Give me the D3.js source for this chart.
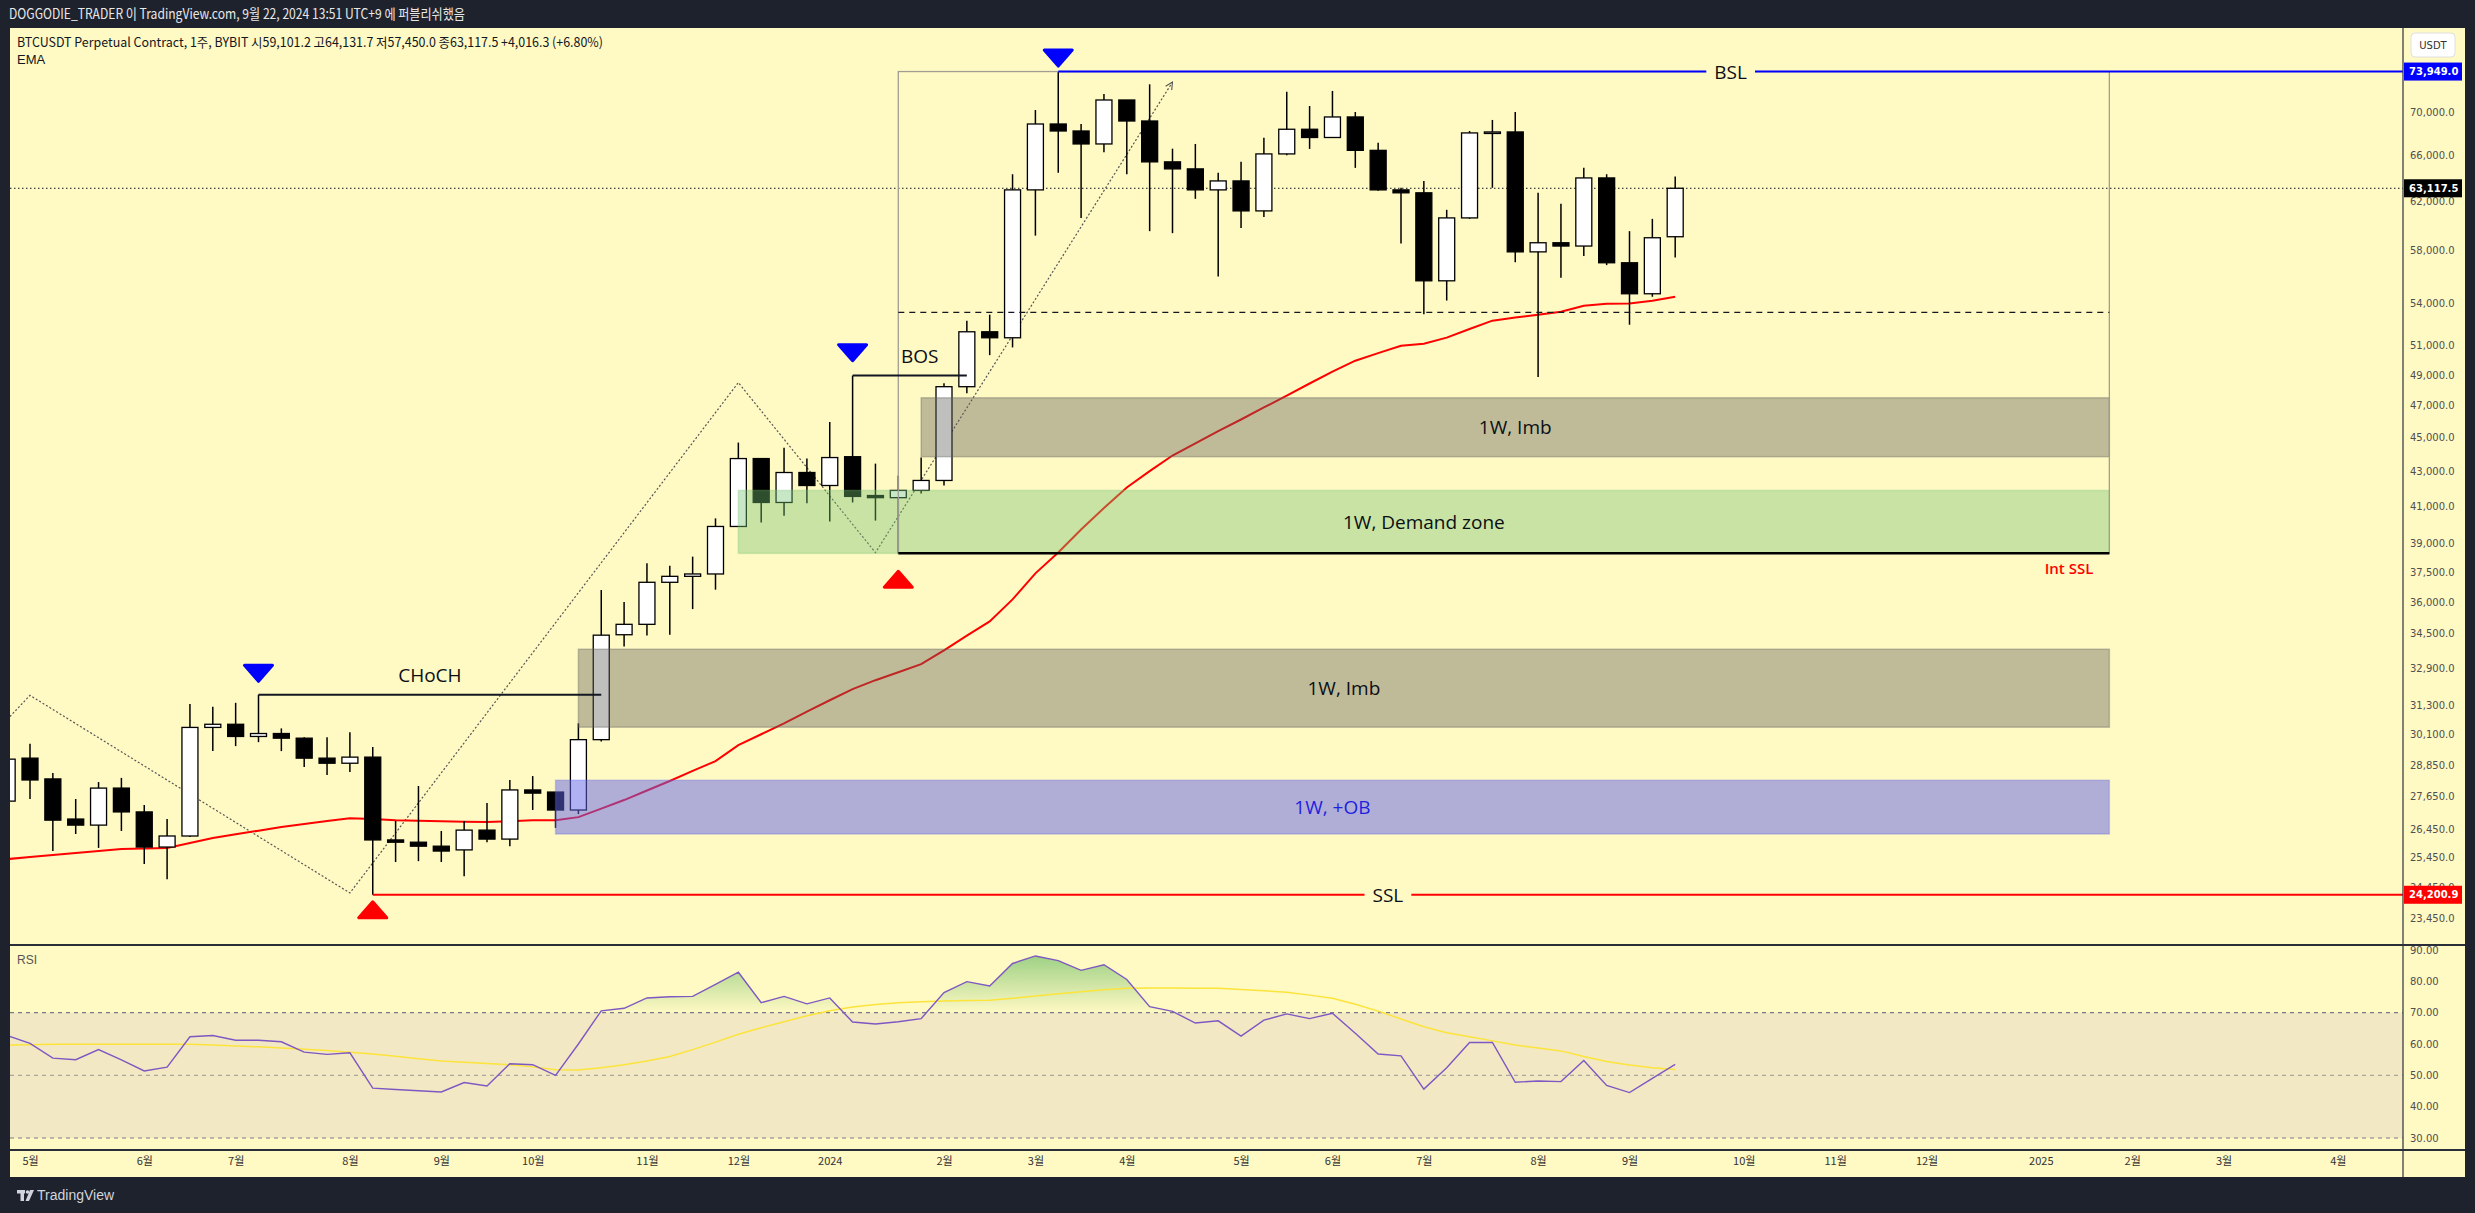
<!DOCTYPE html>
<html>
<head>
<meta charset="utf-8">
<script src="https://cdn.jsdelivr.net/npm/d3@7"></script>
<style>
  body { margin: 0; background: #1e222d; }
  svg { display: block; }
</style>
</head>
<body>
<svg id="chart" width="2475" height="1213"></svg>
<script>

// weekly candles, first week starts 2023-04-24 (BTCUSDT perp, BYBIT)
var firstWeek = "2023-04-24"
var opens  = [27480,29130,28320,26820,26600,27970,27080,25820,26210,30370,30500,30000,30120,29930,29130,28930,29170,26070,25990,25850,25720,26420,26100,27900,27820,27150,29870,34440,34930,36980,37280,37400,39890,43740,41210,42920,42170,43850,41600,41480,41890,42460,48220,51950,51530,62980,68870,68220,67030,71150,69150,65420,64800,62980,63750,61210,66130,68380,67620,69530,66450,62980,62730,55670,60630,68040,68130,57900,58620,58360,64010,57050,54700,59101.2]
var highs  = [29500,29700,28550,27560,28200,28360,27340,26820,31350,31230,31400,31750,30330,29970,29970,30170,29570,26750,28050,26390,26750,27410,28280,28430,27820,30540,36600,36000,37950,37820,38290,40330,44700,43740,44380,43740,45960,48950,43440,42740,43800,48450,52740,53170,64330,70190,73949,68870,71730,71150,72680,66600,67030,64460,65420,67600,71960,70570,72030,70000,67140,63160,63750,61300,68220,69250,70000,62730,61800,64900,64330,59550,60550,64131.7]
var lows   = [27300,27560,25680,26280,25790,26390,25230,24720,26170,29410,29610,29770,29410,28780,28470,28590,24200.9,25300,25330,25300,24820,25990,25850,27150,26500,27000,29800,33890,34410,34440,35660,36610,39890,40110,40470,41160,40160,41210,40210,38460,41720,42170,47800,50330,50860,59190,64460,60630,66280,64330,59550,59390,62220,56000,59800,60700,66000,66580,67600,64890,62900,58570,53200,54200,60550,63160,57090,48860,55900,57580,56870,52450,54480,57450]
var closes = [29090,28280,26780,26600,27970,27080,25820,26210,30370,30500,30000,30120,29930,29130,28930,29170,26070,25990,25850,25680,26420,26100,27900,27780,27150,29870,34420,34930,36980,37280,37400,39890,43740,41210,42920,42170,43800,41550,41480,41890,42460,48220,51950,51530,62980,68870,68220,67030,71150,69150,65420,64800,62980,63750,61210,66130,68380,67620,69530,66450,62980,62730,55670,60630,68040,68130,57900,58620,58360,64010,57050,54700,59020,63117.5]
var ema    = [25400,25470,25540,25610,25680,25750,25770,25790,25960,26140,26270,26400,26530,26640,26750,26850,26820,26780,26760,26740,26720,26710,26740,26780,26780,26890,27200,27520,27880,28240,28630,29010,29650,30090,30540,31030,31510,31990,32380,32730,33090,33720,34400,35070,36130,37430,38510,39730,40900,42060,43000,43920,44650,45400,46120,46880,47640,48430,49220,49950,50470,50980,51120,51540,52150,52740,52960,53170,53380,53820,53970,53990,54190,54480]
var rsi    = [62.7,60.2,55.5,55.0,58.2,54.9,51.4,52.6,62.3,62.7,61.2,61.2,60.7,57.4,56.7,57.2,45.9,45.5,45.1,44.7,47.7,46.6,53.7,53.4,50.0,60.0,70.6,71.4,74.7,75.1,75.2,79.0,82.9,73.2,75.2,72.8,74.7,67.0,66.4,67.1,68.1,76.4,79.9,78.5,85.7,88.1,86.6,83.5,85.3,80.6,71.9,70.4,66.7,67.4,62.5,67.6,69.6,68.1,69.8,63.4,56.8,56.2,45.6,52.4,60.5,60.5,47.8,48.2,48.0,54.7,46.8,44.5,49.0,53.5]
var rsiMa  = [59.7,59.8,59.9,59.9,59.9,59.9,59.9,59.9,59.9,59.7,59.4,59.1,58.7,58.3,57.9,57.4,56.8,56.1,55.3,54.6,54.2,53.8,53.4,52.7,51.8,51.7,52.4,53.4,54.6,56.0,58.2,60.6,63.1,65.2,67.1,69.0,70.6,71.8,72.6,73.2,73.5,73.7,73.9,74.0,74.6,75.3,76.0,76.7,77.3,77.8,77.9,77.9,77.8,77.8,77.4,77.0,76.5,75.6,74.6,72.7,70.5,68.0,65.5,63.6,62.3,61.0,59.7,58.7,57.8,56.0,54.4,53.3,52.4,51.9]

var priceTicks = [70000,66000,62000,58000,54000,51000,49000,47000,45000,43000,41000,39000,37500,36000,34500,32900,31300,30100,28850,27650,26450,25450,24450,23450]
var rsiTicks = [90,80,70,60,50,40,30]
var timeTickDates  = ["2023-05-01","2023-06-05","2023-07-03","2023-08-07","2023-09-04","2023-10-02","2023-11-06","2023-12-04","2024-01-01","2024-02-05","2024-03-04","2024-04-01","2024-05-06","2024-06-03","2024-07-01","2024-08-05","2024-09-02","2024-10-07","2024-11-04","2024-12-02","2025-01-06","2025-02-03","2025-03-03","2025-04-07"]
var timeTickLabels = ["5월","6월","7월","8월","9월","10월","11월","12월","2024","2월","3월","4월","5월","6월","7월","8월","9월","10월","11월","12월","2025","2월","3월","4월"]

// drawings
var zoneEnd = "2025-01-27"
var zones = [
  { start: "2024-01-29", top: 47500, bottom: 43850, label: "1W, Imb", kind: "imb" },
  { start: "2023-12-04", top: 41890, bottom: 38460, label: "1W, Demand zone", kind: "demand" },
  { start: "2023-10-16", top: 33770, bottom: 30380, label: "1W, Imb", kind: "imb" },
  { start: "2023-10-09", top: 28270, bottom: 26280, label: "1W, +OB", kind: "ob" }
]
var rangeBox = { start: "2024-01-22", end: "2025-01-27", top: 73949, bottom: 38460, eq: 53330 }
var levels = [
  { start: "2024-03-11", end: null, price: 73949, label: "BSL", kind: "bsl" },
  { start: "2023-08-14", end: null, price: 24200.9, label: "SSL", kind: "ssl" },
  { start: "2023-07-10", end: "2023-10-23", price: 31750, label: "CHoCH", kind: "bos" },
  { start: "2024-01-08", end: "2024-02-12", price: 48950, label: "BOS", kind: "bos" },
  { start: "2024-01-22", end: "2025-01-27", price: 38460, label: "Int SSL", kind: "int" }
]
var swingHighs = [["2023-07-10", 32330], ["2024-01-08", 49950], ["2024-03-11", 74500]]
var swingLows  = [["2023-08-14", 23970], ["2024-01-22", 37540]]
var zigzag = [["2023-04-24", 30700], ["2023-05-01", 31720], ["2023-08-07", 24260], ["2023-12-04", 48490], ["2024-01-15", 38500], ["2024-04-15", 72900]]

var lastPrice = 63117.5

// ---------------------------------------------------------------

var parse = d3.utcParse("%Y-%m-%d")
var weeks = d3.range(opens.length).map(i => d3.utcDay.offset(parse(firstWeek), 7 * i))

var paneL = 10, paneR = 2403, panelR = 2465
var mainTop = 28, mainBot = 945, rsiBot = 1150, panelBot = 1177
var bg = "#fff9c4"
var labelFont = "'Open Sans', sans-serif"

var x = d3.scaleUtc()
  .domain([parse("2023-05-01"), parse("2025-04-07")])
  .range([30, 2337.85])
var y = d3.scaleLog().domain([23450, 70000]).range([918, 112])
var yr = d3.scaleLinear().domain([30, 90]).range([1138, 950])

var svg = d3.select("#chart")
var defs = svg.append("defs")

defs.append("clipPath").attr("id", "mainClip")
  .append("rect").attr("x", paneL).attr("y", mainTop).attr("width", paneR - paneL).attr("height", mainBot - mainTop)
defs.append("clipPath").attr("id", "rsiClip")
  .append("rect").attr("x", paneL).attr("y", mainBot).attr("width", paneR - paneL).attr("height", rsiBot - mainBot)
defs.append("clipPath").attr("id", "obClip")
  .append("rect").attr("x", paneL).attr("y", mainBot).attr("width", paneR - paneL).attr("height", yr(70) - mainBot)

var grad = defs.append("linearGradient").attr("id", "obGrad")
  .attr("gradientUnits", "userSpaceOnUse")
  .attr("x1", 0).attr("x2", 0).attr("y1", yr(90)).attr("y2", yr(70))
grad.append("stop").attr("offset", 0).attr("stop-color", "rgb(76,175,80)").attr("stop-opacity", 0.6)
grad.append("stop").attr("offset", 1).attr("stop-color", "rgb(76,175,80)").attr("stop-opacity", 0)

defs.append("marker").attr("id", "arrow")
  .attr("viewBox", "0 0 10 10").attr("refX", 9).attr("refY", 5)
  .attr("markerWidth", 9).attr("markerHeight", 9).attr("markerUnits", "userSpaceOnUse")
  .attr("orient", "auto")
  .append("path").attr("d", "M1,1 L9,5 L1,9").attr("fill", "none").attr("stroke", "#555").attr("stroke-width", 1.2)

// frame
svg.append("rect").attr("width", 2475).attr("height", 1213).attr("fill", "#1e222d")
svg.append("rect").attr("x", paneL).attr("y", mainTop).attr("width", panelR - paneL).attr("height", panelBot - mainTop).attr("fill", bg)

// header
svg.append("text").attr("x", 9).attr("y", 19)
  .attr("font-family", "'Noto Sans CJK KR', sans-serif").attr("font-size", 14).attr("fill", "#e8e8e8")
  .attr("textLength", 456).attr("lengthAdjust", "spacingAndGlyphs")
  .text("DOGGODIE_TRADER 이 TradingView.com, 9월 22, 2024 13:51 UTC+9 에 퍼블리쉬했음")

var main = svg.append("g").attr("clip-path", "url(#mainClip)")

// last price dotted line
main.append("line")
  .attr("x1", paneL).attr("x2", paneR).attr("y1", y(lastPrice)).attr("y2", y(lastPrice))
  .attr("stroke", "#131722").attr("stroke-width", 1).attr("stroke-dasharray", "1.5,2.5")

// zigzag projection
main.append("path")
  .datum(zigzag)
  .attr("d", d3.line().x(d => x(parse(d[0]))).y(d => y(d[1])))
  .attr("fill", "none").attr("stroke", "#555").attr("stroke-width", 1.2)
  .attr("stroke-dasharray", "2,2").attr("marker-end", "url(#arrow)")

// EMA
main.append("path")
  .datum(ema)
  .attr("d", d3.line().x((d, i) => x(weeks[i])).y(d => y(d)))
  .attr("fill", "none").attr("stroke", "#ff0000").attr("stroke-width", 2)

// candles
var candles = main.append("g").selectAll("g").data(weeks).join("g")
candles.append("line")
  .attr("x1", d => x(d)).attr("x2", d => x(d))
  .attr("y1", (d, i) => y(highs[i])).attr("y2", (d, i) => y(lows[i]))
  .attr("stroke", "#000").attr("stroke-width", 1.5)
candles.append("rect")
  .attr("x", d => x(d) - 8).attr("width", 16)
  .attr("y", (d, i) => y(Math.max(opens[i], closes[i])))
  .attr("height", (d, i) => Math.max(1.5, Math.abs(y(opens[i]) - y(closes[i]))))
  .attr("fill", (d, i) => closes[i] >= opens[i] ? "#ffffff" : "#000000")
  .attr("stroke", "#000").attr("stroke-width", 1.3)

// zones
var zoneFill = { imb: "rgba(95,94,91,0.40)", demand: "rgba(118,196,116,0.40)", ob: "rgba(97,99,232,0.50)" }
var zoneStroke = { imb: "rgba(95,94,91,0.35)", demand: "rgba(118,196,116,0.3)", ob: "rgba(97,99,232,0.3)" }
var zoneText = { imb: "#0b0e14", demand: "#0b0e14", ob: "#1f1fe0" }
zones.forEach(function(z) {
  var x0 = x(parse(z.start)), x1 = x(parse(zoneEnd))
  main.append("rect")
    .attr("x", x0).attr("width", x1 - x0)
    .attr("y", y(z.top)).attr("height", y(z.bottom) - y(z.top))
    .attr("fill", zoneFill[z.kind]).attr("stroke", zoneStroke[z.kind]).attr("stroke-width", 1.5)
  main.append("text")
    .attr("x", (x0 + x1) / 2).attr("y", (y(z.top) + y(z.bottom)) / 2)
    .attr("text-anchor", "middle").attr("dominant-baseline", "central")
    .attr("font-family", labelFont).attr("font-size", 19).attr("font-weight", 500)
    .attr("fill", zoneText[z.kind])
    .text(z.label)
})

// range box with equilibrium
var bx0 = x(parse(rangeBox.start)), bx1 = x(parse(rangeBox.end))
main.append("rect")
  .attr("x", bx0).attr("width", bx1 - bx0)
  .attr("y", y(rangeBox.top)).attr("height", y(rangeBox.bottom) - y(rangeBox.top))
  .attr("fill", "none").attr("stroke", "#a09e92").attr("stroke-width", 1.3)
main.append("line")
  .attr("x1", bx0).attr("x2", bx1).attr("y1", y(rangeBox.eq)).attr("y2", y(rangeBox.eq))
  .attr("stroke", "#131722").attr("stroke-width", 1.2).attr("stroke-dasharray", "6,5")

// levels
var levelColor = { bsl: "#0000ff", ssl: "#ff0000", bos: "#131722", int: "#000000" }
levels.forEach(function(l) {
  var x0 = x(parse(l.start))
  var x1 = l.end ? x(parse(l.end)) : paneR
  var ly = y(l.price)
  main.append("line")
    .attr("x1", x0).attr("x2", x1).attr("y1", ly).attr("y2", ly)
    .attr("stroke", levelColor[l.kind]).attr("stroke-width", l.kind == "int" ? 2.5 : 2)
  if (l.kind == "bsl" || l.kind == "ssl") {
    var t = main.append("text")
      .attr("x", (x0 + x1) / 2).attr("y", ly)
      .attr("text-anchor", "middle").attr("dominant-baseline", "central")
      .attr("font-family", labelFont).attr("font-size", 19).attr("font-weight", 500).attr("fill", "#0b0e14")
      .text(l.label)
    var bb = t.node().getBBox()
    main.insert("rect", function() { return t.node() })
      .attr("x", bb.x - 8).attr("y", ly - 6).attr("width", bb.width + 16).attr("height", 12)
      .attr("fill", bg)
  } else if (l.kind == "bos") {
    main.append("text")
      .attr("x", (x0 + x1) / 2 + (l.label == "BOS" ? 10 : 0)).attr("y", ly - 13)
      .attr("text-anchor", "middle")
      .attr("font-family", labelFont).attr("font-size", 19).attr("font-weight", 500).attr("fill", "#0b0e14")
      .text(l.label)
  } else {
    main.append("text")
      .attr("x", x1 - 16).attr("y", ly + 21)
      .attr("text-anchor", "end")
      .attr("font-family", labelFont).attr("font-size", 15).attr("font-weight", 600)
      .attr("fill", "#ff0000")
      .text(l.label)
  }
})

// swing markers
main.selectAll(".hi").data(swingHighs).join("path")
  .attr("d", function(d) {
    var cx = x(parse(d[0])), ty = y(d[1])
    return "M" + (cx - 14) + "," + (ty - 16) + "L" + (cx + 14) + "," + (ty - 16) + "L" + cx + "," + ty + "Z"
  })
  .attr("fill", "#0000ff").attr("stroke", "#0000ff").attr("stroke-width", 3).attr("stroke-linejoin", "round")
main.selectAll(".lo").data(swingLows).join("path")
  .attr("d", function(d) {
    var cx = x(parse(d[0])), ty = y(d[1])
    return "M" + (cx - 14) + "," + (ty + 16) + "L" + (cx + 14) + "," + (ty + 16) + "L" + cx + "," + ty + "Z"
  })
  .attr("fill", "#ff0000").attr("stroke", "#ff0000").attr("stroke-width", 3).attr("stroke-linejoin", "round")

// legend texts in main pane
svg.append("text").attr("x", 17).attr("y", 47)
  .attr("font-family", "'Liberation Sans Narrow', 'Noto Sans CJK KR', sans-serif").attr("font-size", 13).attr("fill", "#131722")
  .attr("textLength", 586).attr("lengthAdjust", "spacingAndGlyphs")
  .text("BTCUSDT Perpetual Contract, 1주, BYBIT  시59,101.2  고64,131.7  저57,450.0  종63,117.5  +4,016.3 (+6.80%)")
svg.append("text").attr("x", 17).attr("y", 64)
  .attr("font-family", "'Liberation Sans Narrow', sans-serif").attr("font-size", 13).attr("fill", "#131722")
  .text("EMA")

// RSI pane
var rsiG = svg.append("g").attr("clip-path", "url(#rsiClip)")
rsiG.append("rect")
  .attr("x", paneL).attr("width", paneR - paneL)
  .attr("y", yr(70)).attr("height", yr(30) - yr(70))
  .attr("fill", "rgba(126,87,194,0.1)")
;[70, 50, 30].forEach(function(v) {
  rsiG.append("line")
    .attr("x1", paneL).attr("x2", paneR).attr("y1", yr(v)).attr("y2", yr(v))
    .attr("stroke", v == 50 ? "rgba(120,123,134,0.6)" : "#787b86")
    .attr("stroke-width", 1.2).attr("stroke-dasharray", "4,4")
})
rsiG.append("path")
  .datum(rsi)
  .attr("clip-path", "url(#obClip)")
  .attr("d", d3.area().x((d, i) => x(weeks[i])).y0(yr(70)).y1(d => yr(d)))
  .attr("fill", "url(#obGrad)")
rsiG.append("path")
  .datum(rsiMa)
  .attr("d", d3.line().x((d, i) => x(weeks[i])).y(d => yr(d)))
  .attr("fill", "none").attr("stroke", "#fce43a").attr("stroke-width", 1.5)
rsiG.append("path")
  .datum(rsi)
  .attr("d", d3.line().x((d, i) => x(weeks[i])).y(d => yr(d)))
  .attr("fill", "none").attr("stroke", "#7e57c2").attr("stroke-width", 1.4)
svg.append("text").attr("x", 17).attr("y", 964)
  .attr("font-family", "'Liberation Sans Narrow', sans-serif").attr("font-size", 12).attr("fill", "#555")
  .text("RSI")

// separators
svg.append("line").attr("x1", paneR).attr("x2", paneR).attr("y1", mainTop).attr("y2", panelBot)
  .attr("stroke", "#3c3f48").attr("stroke-width", 1.3)
svg.append("line").attr("x1", paneL).attr("x2", panelR).attr("y1", mainBot).attr("y2", mainBot)
  .attr("stroke", "#2a2e39").attr("stroke-width", 2)
svg.append("line").attr("x1", paneL).attr("x2", panelR).attr("y1", rsiBot).attr("y2", rsiBot)
  .attr("stroke", "#2a2e39").attr("stroke-width", 2)

// price axis
var fmt = d3.format(",.1f")
var pAxis = svg.append("g").attr("transform", "translate(" + paneR + ",0)")
  .call(d3.axisRight(y).tickValues(priceTicks).tickFormat(fmt).tickSize(0).tickPadding(7))
pAxis.select(".domain").remove()
pAxis.selectAll("text").attr("font-family", "'DejaVu Sans', sans-serif").attr("font-size", 10).attr("fill", "#4f4f4f")

var rAxis = svg.append("g").attr("transform", "translate(" + paneR + ",0)")
  .call(d3.axisRight(yr).tickValues(rsiTicks).tickFormat(d3.format(".2f")).tickSize(0).tickPadding(7))
rAxis.select(".domain").remove()
rAxis.selectAll("text").attr("font-family", "'DejaVu Sans', sans-serif").attr("font-size", 10).attr("fill", "#4f4f4f")

// price labels on axis
var axisTags = [[73949, "#0000ff"], [lastPrice, "#000000"], [24200.9, "#ff0000"]]
axisTags.forEach(function(t) {
  var ty = y(t[0])
  svg.append("rect").attr("x", paneR + 1).attr("y", ty - 9).attr("width", 58).attr("height", 18).attr("fill", t[1])
  svg.append("text").attr("x", paneR + 6).attr("y", ty).attr("dominant-baseline", "central")
    .attr("font-family", "'DejaVu Sans', sans-serif").attr("font-size", 10).attr("font-weight", "bold")
    .attr("fill", "#fff").text(fmt(t[0]))
})

// currency box
svg.append("rect").attr("x", 2411).attr("y", 33).attr("width", 44).attr("height", 24).attr("rx", 4)
  .attr("fill", "#fff").attr("stroke", "#e0e0e0")
svg.append("text").attr("x", 2433).attr("y", 45).attr("text-anchor", "middle").attr("dominant-baseline", "central")
  .attr("font-family", "'DejaVu Sans', sans-serif").attr("font-size", 10).attr("fill", "#333").text("USDT")

// time axis
var tAxis = svg.append("g").attr("transform", "translate(0," + rsiBot + ")")
  .call(d3.axisBottom(x).tickValues(timeTickDates.map(parse)).tickFormat((d, i) => timeTickLabels[i]).tickSize(0).tickPadding(7))
tAxis.select(".domain").remove()
tAxis.selectAll("text").attr("font-family", "'Noto Sans CJK KR', sans-serif").attr("font-size", 11).attr("fill", "#333")

// footer logo
var logo = svg.append("g").attr("fill", "#d1d4dc")
logo.append("rect").attr("x", 17).attr("y", 1190).attr("width", 8).attr("height", 3.5)
logo.append("rect").attr("x", 20.5).attr("y", 1190).attr("width", 3.5).attr("height", 11)
logo.append("circle").attr("cx", 27.5).attr("cy", 1192).attr("r", 1.8)
logo.append("path").attr("d", "M30,1190 L34,1190 L29,1201 L25.5,1201 Z")
svg.append("text").attr("x", 37).attr("y", 1200)
  .attr("font-family", "'Liberation Sans Narrow', sans-serif").attr("font-size", 14).attr("fill", "#d1d4dc")
  .text("TradingView")

</script>
</body>
</html>
